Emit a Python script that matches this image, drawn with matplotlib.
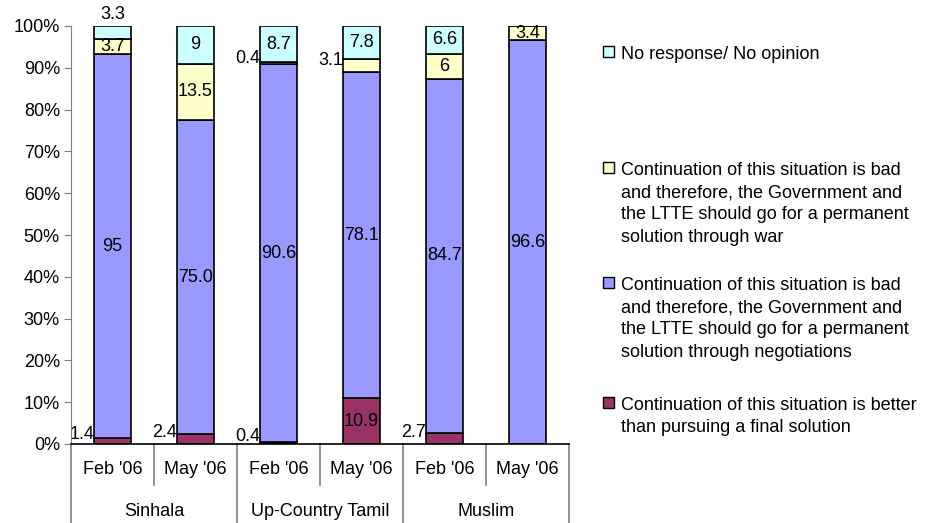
import matplotlib
matplotlib.use("Agg")
import matplotlib.pyplot as plt
import matplotlib.transforms as mtransforms
from matplotlib.patches import Rectangle
import numpy as np

plt.rcParams['font.family'] = ['Liberation Sans', 'DejaVu Sans']

# ---- data ----
periods = ["Feb '06", "May '06", "Feb '06", "May '06", "Feb '06", "May '06"]
groups = ["Sinhala", "Up-Country Tamil", "Muslim"]
better = [1.4, 2.4, 0.4, 10.9, 2.7, 0]
negotiations = [95, 75.0, 90.6, 78.1, 84.7, 96.6]
war = [3.7, 13.5, 0.4, 3.1, 6, 3.4]
no_response = [3.3, 9, 8.7, 7.8, 6.6, 0]

better_lbl = ["1.4", "2.4", "0.4", "10.9", "2.7", ""]
neg_lbl = ["95", "75.0", "90.6", "78.1", "84.7", "96.6"]
war_lbl = ["3.7", "13.5", "0.4", "3.1", "6", "3.4"]
nr_lbl = ["3.3", "9", "8.7", "7.8", "6.6", ""]

series_names = [
    "Continuation of this situation is better\nthan pursuing a final solution",
    "Continuation of this situation is bad\nand therefore, the Government and\nthe LTTE should go for a permanent\nsolution through negotiations",
    "Continuation of this situation is bad\nand therefore, the Government and\nthe LTTE should go for a permanent\nsolution through war",
    "No response/ No opinion",
]

# ---- style ----
colors = ["#993366", "#9999FF", "#FFFFCC", "#CCFFFF"]
# label placement per series/bar: c=centered, l=left of bar, t=above bar
place = [
    ["l", "l", "l", "c", "l", "c"],
    ["c", "c", "c", "c", "c", "c"],
    ["c", "c", "l", "l", "c", "c"],
    ["t", "c", "c", "c", "c", "c"],
]
FS = 13

fig = plt.figure(figsize=(9.3, 5.23), dpi=100)
ax = fig.add_axes([71/930, 1 - 444/523, (569-71)/930, (444-26)/523])

data = np.array([better, negotiations, war, no_response], dtype=float)
labels = [better_lbl, neg_lbl, war_lbl, nr_lbl]
totals = data.sum(axis=0)
pct = data / totals * 100

x = np.arange(len(periods))
width = 0.44
bottom = np.zeros(len(periods))
for i in range(4):
    ax.bar(x, pct[i], width, bottom=bottom, color=colors[i],
           edgecolor="black", linewidth=1.2, zorder=2)
    for j in range(len(periods)):
        lab = labels[i][j]
        if not lab:
            continue
        yc = bottom[j] + pct[i][j] / 2
        p = place[i][j]
        if p == "c":
            ax.text(x[j], yc, lab, ha="center", va="center", fontsize=FS, zorder=3)
        elif p == "l":
            yy = yc + (1.5 if yc < 10 else 1.0)
            ax.text(x[j] - width / 2, yy, lab, ha="right", va="center",
                    fontsize=FS, zorder=1)
        else:
            ax.text(x[j], bottom[j] + pct[i][j] + 0.6, lab, ha="center",
                    va="bottom", fontsize=FS, zorder=3)
    bottom += pct[i]

ax.set_xlim(-0.5, len(periods) - 0.5)
ax.set_ylim(0, 100)
ax.set_yticks(np.arange(0, 101, 10))
ax.set_yticklabels([f"{v}%" for v in range(0, 101, 10)], fontsize=FS)
ax.tick_params(axis="y", length=5, color="#808080", pad=3)
ax.set_xticks([])
for s in ["top", "right"]:
    ax.spines[s].set_visible(False)
ax.spines["left"].set_color("#808080")
ax.spines["bottom"].set_color("black")
ax.spines["bottom"].set_linewidth(1.2)

# category axis (two-level)
trans = mtransforms.blended_transform_factory(ax.transData, ax.transAxes)
h = 418.0
for k in range(len(periods) + 1):
    xb = k - 0.5
    if k % 2 == 0:
        y1 = -79 / h
    else:
        y1 = -41 / h
    ax.plot([xb, xb], [0, y1], color="#808080", lw=1.2, transform=trans,
            clip_on=False)
for j, p in enumerate(periods):
    ax.text(x[j], -26 / h, p, ha="center", va="center", fontsize=FS,
            transform=trans)
for g, name in enumerate(groups):
    ax.text(2 * g + 0.5, -68 / h, name, ha="center", va="center",
            fontsize=FS, transform=trans)

# legend (manual, top entry = last series)
leg_y = [403, 283, 168, 52]
for i in range(4):
    yc = leg_y[i]
    fig.patches.append(Rectangle((603/930, 1 - (yc + 5)/523), 11/930, 11/523,
                                 facecolor=colors[i], edgecolor="black",
                                 lw=1.0, transform=fig.transFigure,
                                 figure=fig))
    fig.text(621/930, 1 - (yc - 6)/523, series_names[i], ha="left",
             va="top", fontsize=FS, linespacing=1.4)

fig.savefig("out.png", dpi=100)
